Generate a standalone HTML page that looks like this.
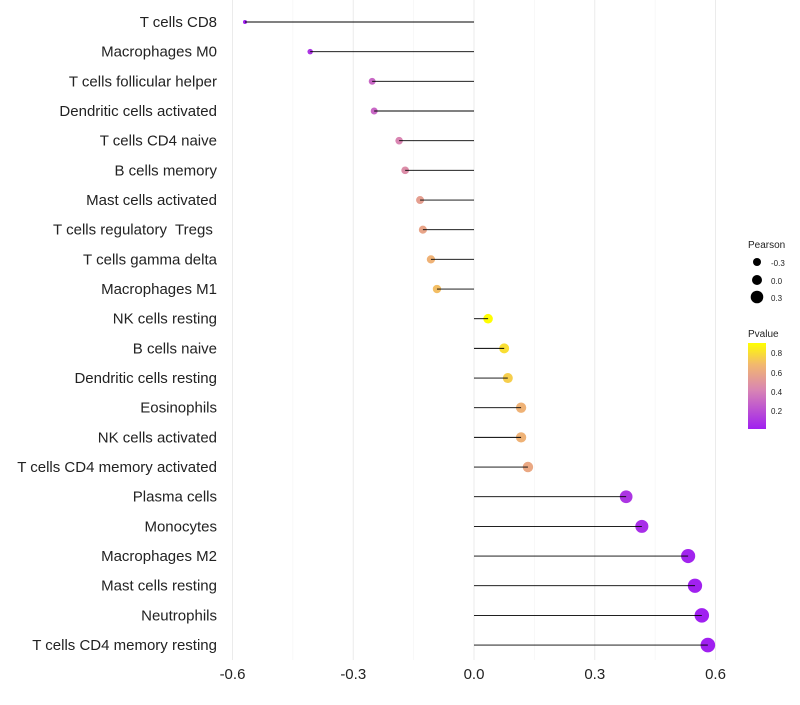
<!DOCTYPE html>
<html><head><meta charset="utf-8"><style>
body{margin:0;background:#fff;font-family:"Liberation Sans",sans-serif}
svg text{font-family:"Liberation Sans",sans-serif;white-space:pre}
</style></head><body>
<svg id="chart" width="800" height="700" xmlns="http://www.w3.org/2000/svg">
<defs><linearGradient id="pg" x1="0" y1="1" x2="0" y2="0">
<stop offset="0" stop-color="#a020f0"/><stop offset="0.45" stop-color="#d884b4"/><stop offset="0.75" stop-color="#f2b86e"/><stop offset="1" stop-color="#ffff00"/></linearGradient></defs>
<g id="grid"></g><g id="marks"></g><g id="labels"></g>
<g>
<text x="748" y="248" font-size="10" fill="#222">Pearson</text>
<circle cx="757" cy="262" r="4" fill="#000"/><text x="771" y="266" font-size="8" fill="#222">-0.3</text>
<circle cx="757" cy="280" r="5" fill="#000"/><text x="771" y="284" font-size="8" fill="#222">0.0</text>
<circle cx="757" cy="297" r="6.3" fill="#000"/><text x="771" y="301" font-size="8" fill="#222">0.3</text>
<text x="748" y="337" font-size="10" fill="#222">Pvalue</text>
<rect x="748" y="343" width="18" height="86" fill="url(#pg)"/>
<text x="771" y="356" font-size="8" fill="#222">0.8</text>
<text x="771" y="376" font-size="8" fill="#222">0.6</text>
<text x="771" y="395" font-size="8" fill="#222">0.4</text>
<text x="771" y="414" font-size="8" fill="#222">0.2</text>
</g>
</svg>
<script>
const categories=["T cells CD8","Macrophages M0","T cells follicular helper","Dendritic cells activated","T cells CD4 naive","B cells memory","Mast cells activated","T cells regulatory  Tregs ","T cells gamma delta","Macrophages M1","NK cells resting","B cells naive","Dendritic cells resting","Eosinophils","NK cells activated","T cells CD4 memory activated","Plasma cells","Monocytes","Macrophages M2","Mast cells resting","Neutrophils","T cells CD4 memory resting"];
const pearson=[-0.569,-0.407,-0.253,-0.248,-0.186,-0.171,-0.134,-0.127,-0.107,-0.092,0.035,0.075,0.084,0.117,0.117,0.134,0.378,0.417,0.532,0.549,0.566,0.581];
const pvalues=[0.01,0.1,0.3,0.3,0.42,0.46,0.55,0.58,0.65,0.7,0.9,0.8,0.75,0.65,0.65,0.6,0.1,0.07,0.03,0.02,0.015,0.014];
const xTicks=[-0.6,-0.3,0.0,0.3,0.6];
const xTickLabels=["-0.6","-0.3","0.0","0.3","0.6"];
const NS="http://www.w3.org/2000/svg";
const x=v=>474+v*402.5;
const y=i=>22+i*29.67;
const stops=[[0,[160,32,240]],[0.45,[216,132,180]],[0.75,[242,184,110]],[1,[255,255,0]]];
function col(p){let t=(p-0.014)/(0.903-0.014);t=Math.max(0,Math.min(1,t));
for(let k=1;k<stops.length;k++){if(t<=stops[k][0]){const a=stops[k-1],b=stops[k],f=(t-a[0])/(b[0]-a[0]);return "rgb("+a[1].map((c,j)=>Math.round(c+(b[1][j]-c)*f)).join(",")+")";}}return "rgb(255,255,0)";}
const pmin=Math.min(...pearson),pmax=Math.max(...pearson);
const r=v=>2+(v-pmin)/(pmax-pmin)*5.3;
function mk(t,a){const e=document.createElementNS(NS,t);for(const k in a)e.setAttribute(k,a[k]);return e;}
const grid=document.getElementById('grid'),marks=document.getElementById('marks'),labels=document.getElementById('labels');
[-0.45,-0.15,0.15,0.45].forEach(v=>{const l=mk('line',{x1:x(v),x2:x(v),y1:0,y2:660,stroke:'#f3f3f3','stroke-width':0.6});

grid.appendChild(l);});
xTicks.forEach((v,i)=>{const l=mk('line',{x1:x(v),x2:x(v),y1:0,y2:660,stroke:'#ebebeb','stroke-width':1});

grid.appendChild(l);
const t=mk('text',{x:x(v),y:679,'font-size':15,'text-anchor':'middle',fill:'#222'});t.textContent=xTickLabels[i];

labels.appendChild(t);});
categories.forEach((c,i)=>{
const d=mk('circle',{cx:x(pearson[i]),cy:y(i),r:r(pearson[i]),fill:col(pvalues[i])});

marks.appendChild(d);
const l=mk('line',{x1:x(0),x2:x(pearson[i]),y1:y(i),y2:y(i),stroke:'#000','stroke-width':0.9});

marks.appendChild(l);
const t=mk('text',{x:217,y:y(i)+5,'font-size':15,'text-anchor':'end',fill:'#222'});t.textContent=c;

labels.appendChild(t);});
</script>
</body></html>
